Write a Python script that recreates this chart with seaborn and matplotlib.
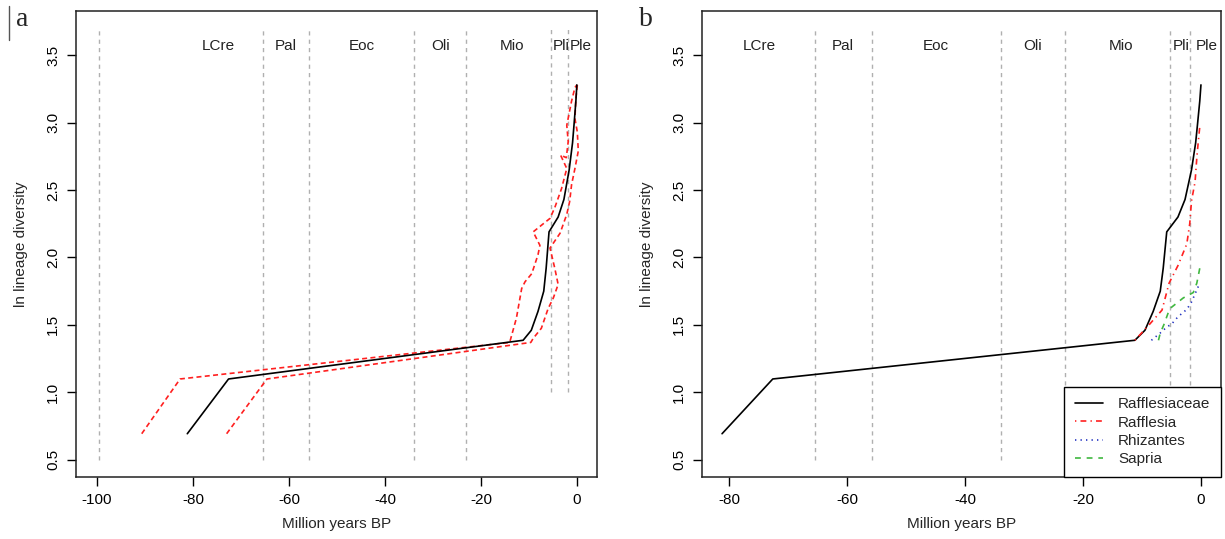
import numpy as np
import pandas as pd
import seaborn as sns
import matplotlib.pyplot as plt
from matplotlib.lines import Line2D

# epoch boundaries (Ma before present) and their labels
epoch_bounds = [-99.6, -65.5, -55.8, -33.9, -23.03, -5.33, -1.81]
epoch_names = ['LCre', 'Pal', 'Eoc', 'Oli', 'Mio', 'Pli', 'Ple']
epoch_label_x = [-74.8, -60.7, -44.9, -28.5, -13.6, -3.3, 0.9]

# Rafflesiaceae lineage-through-time
fam_x = [-81.2, -72.6, -11.2, -9.5, -8.1, -6.9, -6.4, -5.8, -3.9, -2.7,
         -1.6, -0.9, -0.6, -0.4, -0.2, 0.0]
fam_y = [0.693, 1.099, 1.386, 1.46, 1.60, 1.75, 1.92, 2.19, 2.30, 2.43,
         2.65, 2.85, 2.98, 3.07, 3.16, 3.28]

# confidence envelope (panel a)
ci_old_x = [-90.7, -82.7, -14.0, -12.6, -11.5, -10.8, -9.4, -8.1, -7.7, -9.1,
            -7.7, -5.6, -4.6, -3.2, -2.1, -3.4, -2.2, -1.8, -2.1, -1.1, -0.4, 0.0]
ci_old_y = [0.693, 1.099, 1.37, 1.55, 1.77, 1.82, 1.88, 2.02, 2.09, 2.19,
            2.23, 2.29, 2.37, 2.51, 2.66, 2.76, 2.74, 2.86, 2.98, 3.16, 3.26, 3.28]
ci_young_x = [-73.0, -64.6, -9.6, -9.1, -7.4, -6.0, -4.9, -3.9, -4.6, -5.6,
              -3.5, -2.1, -1.5, -1.1, -0.4, 0.3, 0.1, -0.4, -0.2, 0.1]
ci_young_y = [0.693, 1.099, 1.37, 1.40, 1.475, 1.62, 1.70, 1.80, 1.92, 2.07,
              2.18, 2.32, 2.415, 2.54, 2.66, 2.79, 2.93, 3.03, 3.18, 3.28]

# genera (panel b)
raf_x = [-11.2, -8.6, -6.6, -5.4, -3.9, -2.4, -1.9, -1.6, -1.0, -0.7, -0.45, -0.2]
raf_y = [1.386, 1.51, 1.61, 1.81, 1.94, 2.10, 2.25, 2.42, 2.56, 2.74, 2.86, 2.97]
rhi_x = [-8.4, -6.9, -5.9, -4.9, -3.9, -2.4, -1.6, -1.0, -0.4]
rhi_y = [1.386, 1.44, 1.48, 1.51, 1.56, 1.615, 1.67, 1.73, 1.79]
sap_x = [-7.2, -6.9, -6.3, -5.3, -3.0, -1.3, -0.7, -0.2]
sap_y = [1.386, 1.44, 1.50, 1.62, 1.70, 1.74, 1.81, 1.92]

sns.set_theme(style='ticks')
plt.rcParams['font.family'] = ['Liberation Sans', 'DejaVu Sans']
plt.rcParams['axes.linewidth'] = 1.1
plt.rcParams['axes.unicode_minus'] = False

GRAY = '#b0b0b0'
RED = '#ff2020'
BLUE = '#2030c0'
GREEN = '#40b840'


def trace(ax, x, y, color, dashes=None, lw=1.2):
    d = pd.DataFrame({'x': x, 'y': y})
    sns.lineplot(data=d, x='x', y='y', sort=False, estimator=None, ax=ax,
                 color=color, lw=lw)
    if dashes is not None:
        ax.lines[-1].set_dashes(dashes)


def style_axes(ax, xlim, xticks):
    ax.set_xlim(*xlim)
    ax.set_ylim(0.372, 3.828)
    ax.set_xticks(xticks)
    ax.set_xticklabels([str(t) for t in xticks])
    ax.set_yticks([0.5, 1.0, 1.5, 2.0, 2.5, 3.0, 3.5])
    ax.set_yticklabels(['0.5', '1.0', '1.5', '2.0', '2.5', '3.0', '3.5'])
    ax.tick_params(axis='both', direction='out', length=6.5, width=1.0,
                   labelsize=11, pad=5, colors='black')
    ax.tick_params(axis='y', labelrotation=90)
    for lab in ax.get_yticklabels():
        lab.set_va('center')
    for sp in ax.spines.values():
        sp.set_visible(True)
        sp.set_color('#222222')
    ax.set_xlabel('Million years BP', fontsize=11, labelpad=7)
    ax.set_ylabel('ln lineage diversity', fontsize=11, labelpad=13)


def epochs(ax, bounds, short_bottom=None):
    for b in bounds:
        low = 0.5
        if short_bottom is not None and b > -6:
            low = short_bottom
        ax.plot([b, b], [low, 3.7], color=GRAY, lw=1.0, dashes=(3, 3), zorder=1)
    for name, lx in zip(epoch_names, epoch_label_x):
        ax.text(lx, 3.57, name, ha='center', va='center', fontsize=11,
                color='#222222')


fig = plt.figure(figsize=(12.25, 5.39), dpi=100)
fig.patch.set_facecolor('white')
ax_a = fig.add_axes([76 / 1225, 62 / 539, (597 - 76) / 1225, 466 / 539])
ax_b = fig.add_axes([702 / 1225, 62 / 539, (1221 - 702) / 1225, 466 / 539])

# panel a
epochs(ax_a, epoch_bounds, short_bottom=1.0)
trace(ax_a, ci_old_x, ci_old_y, RED, dashes=(3, 2))
trace(ax_a, ci_young_x, ci_young_y, RED, dashes=(3, 2))
trace(ax_a, fam_x, fam_y, 'black')
style_axes(ax_a, (-104.4, 4.2), [-100, -80, -60, -40, -20, 0])

# panel b
epochs(ax_b, epoch_bounds[1:])
trace(ax_b, fam_x, fam_y, 'black')
trace(ax_b, raf_x, raf_y, RED, dashes=(0.8, 2.5, 3.5, 2.5))
trace(ax_b, rhi_x, rhi_y, BLUE, dashes=(0.8, 2.5))
trace(ax_b, sap_x, sap_y, GREEN, dashes=(3.5, 3.5))
style_axes(ax_b, (-84.6, 3.4), [-80, -60, -40, -20, 0])

handles = [
    Line2D([], [], color='black', lw=1.2),
    Line2D([], [], color=RED, lw=1.2, dashes=(0.8, 2.5, 3.5, 2.5)),
    Line2D([], [], color=BLUE, lw=1.2, dashes=(0.8, 2.5)),
    Line2D([], [], color=GREEN, lw=1.2, dashes=(3.5, 3.5)),
]
leg = ax_b.legend(handles, ['Rafflesiaceae', 'Rafflesia', 'Rhizantes', 'Sapria'],
                  loc='lower right', borderaxespad=0, fontsize=11,
                  frameon=True, fancybox=False, framealpha=1,
                  edgecolor='black', handlelength=1.8, handletextpad=1.0,
                  labelspacing=0.28, borderpad=0.7)
leg.get_frame().set_linewidth(1.0)
leg.set_zorder(5)

fig.text(22 / 1225, 1 - 20 / 539, 'a', fontsize=20, family='Liberation Serif',
         ha='center', va='center')
fig.text(646 / 1225, 1 - 20 / 539, 'b', fontsize=20, family='Liberation Serif',
         ha='center', va='center')
fig.add_artist(Line2D([9 / 1225, 9 / 1225], [1 - 6 / 539, 1 - 40 / 539],
                      color='#555555', lw=1.0))

fig.savefig('out.png', dpi=100, facecolor='white')
